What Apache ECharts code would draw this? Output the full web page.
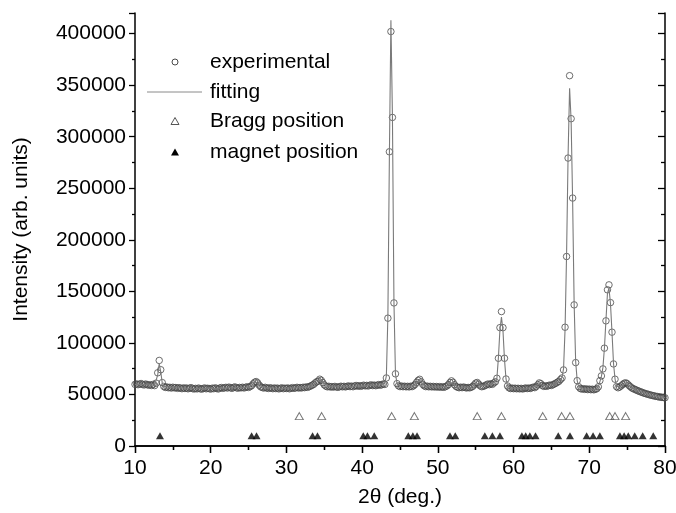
<!DOCTYPE html>
<html>
<head>
<meta charset="utf-8">
<script src="https://cdn.jsdelivr.net/npm/echarts/dist/echarts.min.js"></script>
<style>
html,body{margin:0;padding:0;background:#fff;}
#chart{width:676px;height:513px;}
</style>
</head>
<body>
<div id="chart"></div>
<script>
// 2-theta scan positions (deg.)
const twoTheta = [
10,10.2,10.4,10.6,10.8,11,11.2,11.4,11.6,11.8,
12,12.2,12.4,12.6,12.8,13,13.2,13.4,13.6,13.8,
14,14.2,14.4,14.6,14.8,15,15.2,15.4,15.6,15.8,
16,16.2,16.4,16.6,16.8,17,17.2,17.4,17.6,17.8,
18,18.2,18.4,18.6,18.8,19,19.2,19.4,19.6,19.8,
20,20.2,20.4,20.6,20.8,21,21.2,21.4,21.6,21.8,
22,22.2,22.4,22.6,22.8,23,23.2,23.4,23.6,23.8,
24,24.2,24.4,24.6,24.8,25,25.2,25.4,25.6,25.8,
26,26.2,26.4,26.6,26.8,27,27.2,27.4,27.6,27.8,
28,28.2,28.4,28.6,28.8,29,29.2,29.4,29.6,29.8,
30,30.2,30.4,30.6,30.8,31,31.2,31.4,31.6,31.8,
32,32.2,32.4,32.6,32.8,33,33.2,33.4,33.6,33.8,
34,34.2,34.4,34.6,34.8,35,35.2,35.4,35.6,35.8,
36,36.2,36.4,36.6,36.8,37,37.2,37.4,37.6,37.8,
38,38.2,38.4,38.6,38.8,39,39.2,39.4,39.6,39.8,
40,40.2,40.4,40.6,40.8,41,41.2,41.4,41.6,41.8,
42,42.2,42.4,42.6,42.8,43,43.2,43.4,43.6,43.8,
44,44.2,44.4,44.6,44.8,45,45.2,45.4,45.6,45.8,
46,46.2,46.4,46.6,46.8,47,47.2,47.4,47.6,47.8,
48,48.2,48.4,48.6,48.8,49,49.2,49.4,49.6,49.8,
50,50.2,50.4,50.6,50.8,51,51.2,51.4,51.6,51.8,
52,52.2,52.4,52.6,52.8,53,53.2,53.4,53.6,53.8,
54,54.2,54.4,54.6,54.8,55,55.2,55.4,55.6,55.8,
56,56.2,56.4,56.6,56.8,57,57.2,57.4,57.6,57.8,
58,58.2,58.4,58.6,58.8,59,59.2,59.4,59.6,59.8,
60,60.2,60.4,60.6,60.8,61,61.2,61.4,61.6,61.8,
62,62.2,62.4,62.6,62.8,63,63.2,63.4,63.6,63.8,
64,64.2,64.4,64.6,64.8,65,65.2,65.4,65.6,65.8,
66,66.2,66.4,66.6,66.8,67,67.2,67.4,67.6,67.8,
68,68.2,68.4,68.6,68.8,69,69.2,69.4,69.6,69.8,
70,70.2,70.4,70.6,70.8,71,71.2,71.4,71.6,71.8,
72,72.2,72.4,72.6,72.8,73,73.2,73.4,73.6,73.8,
74,74.2,74.4,74.6,74.8,75,75.2,75.4,75.6,75.8,
76,76.2,76.4,76.6,76.8,77,77.2,77.4,77.6,77.8,
78,78.2,78.4,78.6,78.8,79,79.2,79.4,79.6,79.8,
80
];
// experimental intensity (arb. units)
const experimental = [
59800,60300,59500,59900,60600,59700,59200,60100,59600,58900,
59400,58700,59800,58600,61000,71000,83000,74000,61500,57800,
56800,57300,56500,56900,56200,57000,56400,56700,55900,56600,
56100,55600,56400,55800,56300,55500,56000,56600,55700,55300,
55900,55400,56200,55600,55100,55800,56300,55500,56000,55700,
55200,56100,55600,56400,55800,55300,56200,56700,55900,56500,
56900,56200,57100,56600,55900,56800,57300,56500,56100,56800,
56400,57000,56300,56900,57400,56800,57600,58500,60300,61800,
62500,61200,59000,57400,56800,56200,56900,56300,55800,56500,
56100,55600,56300,55700,56200,55400,55900,56400,55600,56100,
55800,56300,55500,56000,56600,55900,56400,56900,56200,56700,
56300,57000,56600,57300,56900,57600,58200,59000,59800,61200,
62300,63000,64800,63700,61500,59300,58100,57400,57900,57200,
57600,57100,57800,57300,56900,57500,58000,57400,57900,57300,
57800,58300,57600,58100,57500,58200,58700,58000,58500,57900,
58400,59000,58300,58800,58200,58900,59300,58600,59100,58500,
59000,59600,58900,59500,60200,59700,66000,124000,285400,402000,
318700,138800,70000,60500,58400,57600,58200,57500,58000,57400,
57900,57300,58000,57600,58500,59800,61800,63600,64700,62200,
59800,58400,57600,58100,57400,57900,57300,57800,57200,57700,
57100,57600,57000,57500,56900,57600,58300,59600,61600,63200,
61800,59400,57800,57000,56500,57100,56600,57200,56700,56300,
56800,56400,57000,57800,59300,61000,61600,60000,58300,57500,
57900,58500,59300,60100,59500,60400,59800,61200,62300,65700,
85100,114800,130400,114800,85100,65000,58200,56400,55700,56200,
55600,56100,55500,56000,55400,55900,55300,55800,56300,55700,
56200,55800,56500,57100,56600,57800,59400,61200,60400,58700,
57800,58400,57900,58600,59100,58700,59500,60200,61000,61900,
62800,64500,66000,73800,115200,183800,279300,359200,317500,240500,
136900,80900,63400,57500,55800,55200,55600,54900,55400,54700,
55200,54600,55100,54500,55000,55600,57400,63400,68000,74800,
94900,121400,151500,156300,139100,110400,79600,64800,57600,56500,
57200,58300,59600,60800,61300,60500,59000,57700,56400,55600,
55000,54300,53600,53100,52400,52000,51300,50900,50400,50100,
49500,49300,48800,48600,48100,48000,47500,47500,47100,47000,
46800
];
// fitted profile (deg., intensity)
const fitAngle = [10,11,12,12.6,12.8,13,13.2,13.4,13.6,13.8,15,17,19,21,23,24.6,25.2,25.6,26,26.4,26.8,28,30,32,33,33.6,34,34.4,34.8,35.2,35.8,37,39,41,42.4,43,43.2,43.4,43.6,43.8,44,44.2,44.4,44.6,45,46,46.8,47.2,47.6,48,48.4,50,51.2,51.6,51.8,52.2,52.6,54.4,55,55.2,55.6,56.2,57,57.6,57.8,58,58.2,58.4,58.6,58.8,59,59.2,59.6,61,62.4,63,63.4,63.8,64.4,65.4,66,66.4,66.6,66.8,67,67.2,67.4,67.6,67.8,68,68.2,68.4,68.6,69,70.5,71,71.2,71.4,71.6,71.8,72,72.2,72.4,72.6,72.8,73,73.2,73.4,73.6,74,74.8,75.4,76,77,78,79,80];
const fitIntensity = [59800,59700,59300,59200,60500,69000,80000,72000,61000,57800,56600,56000,55700,55900,56500,57000,58000,60000,62000,59500,57200,56200,56000,56600,57500,60000,62000,64000,62500,59500,57600,57500,58000,58600,59400,61000,68000,126000,283000,413000,320000,140000,70000,61000,58200,57800,58400,61500,64000,60000,57800,57300,58000,61000,62800,59500,57200,56800,60200,61000,58600,58800,60000,62500,66000,86000,113000,125000,112000,84000,65000,58500,56200,55800,56400,58500,60500,59000,58300,60200,62600,66500,75000,113000,186000,282000,347000,316000,238000,138000,82000,63500,57800,55600,54900,55600,57800,62500,67500,76000,95000,122000,148000,153000,138000,110000,80000,65000,58000,57500,60700,58000,55000,52000,49500,48000,47000];
// reflection markers (deg.)
const braggPositions = [31.7,34.65,43.9,46.9,55.2,58.4,63.85,66.35,67.45,72.7,73.4,74.8];
const braggLevel = 29000;
const magnetPositions = [13.3,25.4,26.05,33.45,34.1,40.15,40.7,41.6,46.1,46.7,47.25,51.6,52.3,56.2,57.2,58.2,61.1,61.6,62.15,62.9,65.9,67.45,69.65,70.5,71.4,74.05,74.6,75.15,76.0,77.05,78.45];
const magnetLevel = 10000;
const legendNames = ['experimental','fitting','Bragg position','magnet position'];
const xTicks = {min:10, max:80, interval:10};
const yTicks = {min:0, max:420000, interval:50000};

const FONT = 'Liberation Sans';
const chart = echarts.init(document.getElementById('chart'), null, {renderer:'canvas'});

function pairs(xs, ys){ return xs.map((x,i)=>[x, ys[i]]); }
function level(xs, v){ return xs.map(x=>[x, v]); }

const axisLine = {show:true, lineStyle:{color:'#000', width:1.5}};
const baseX = {type:'value', min:xTicks.min, max:xTicks.max, interval:xTicks.interval, splitLine:{show:false}, axisLine:axisLine};
const baseY = {type:'value', min:yTicks.min, max:yTicks.max, interval:yTicks.interval, splitLine:{show:false}, axisLine:axisLine};

const lx = 149, ly = [62, 92, 121, 152];
const legendFont = '21px "Liberation Sans"';
chart.setOption({
  animation:false,
  backgroundColor:'#fff',
  grid:{left:135, right:11, top:13, bottom:67, containLabel:false, outerBoundsMode:'none'},
  xAxis:[
    Object.assign({}, baseX, {position:'bottom',
      axisTick:{show:true, inside:false, length:7, lineStyle:{color:'#000', width:1.3}},
      minorTick:{show:true, splitNumber:2, length:4, lineStyle:{color:'#000', width:1.3}},
      axisLabel:{show:true, color:'#000', fontSize:21, fontFamily:FONT, margin:12},
      name:'2θ (deg.)', nameLocation:'middle', nameGap:41,
      nameTextStyle:{color:'#000', fontSize:21, fontFamily:FONT}}),
    Object.assign({}, baseX, {position:'top',
      axisTick:{show:true, inside:true, length:7, lineStyle:{color:'#000', width:1.3}},
      minorTick:{show:true, splitNumber:2, length:4, lineStyle:{color:'#000', width:1.3}},
      axisLabel:{show:false}})
  ],
  yAxis:[
    Object.assign({}, baseY, {position:'left',
      axisTick:{show:true, inside:false, length:6, lineStyle:{color:'#000', width:1.3}},
      minorTick:{show:true, splitNumber:2, length:3, lineStyle:{color:'#000', width:1.3}},
      axisLabel:{show:true, color:'#000', fontSize:21, fontFamily:FONT, margin:9,
        formatter:v=> (v % yTicks.interval === 0 ? String(v) : '')},
      name:'Intensity (arb. units)', nameLocation:'middle', nameGap:103,
      nameTextStyle:{color:'#000', fontSize:21, fontFamily:FONT}}),
    Object.assign({}, baseY, {position:'right',
      axisTick:{show:true, inside:true, length:7, lineStyle:{color:'#000', width:1.3}},
      minorTick:{show:true, splitNumber:2, length:4, lineStyle:{color:'#000', width:1.3}},
      axisLabel:{show:false}})
  ],
  series:[
    {name:legendNames[0], type:'scatter', xAxisIndex:0, yAxisIndex:0,
     data:pairs(twoTheta, experimental), symbol:'circle', symbolSize:6.5,
     itemStyle:{color:'rgba(0,0,0,0)', borderColor:'#4a4a4a', borderWidth:1}, silent:true},
    {name:legendNames[1], type:'line', xAxisIndex:0, yAxisIndex:0,
     data:pairs(fitAngle, fitIntensity), showSymbol:false, symbol:'none',
     lineStyle:{color:'#7a7a7a', width:1.1}, silent:true, z:3},
    {name:legendNames[2], type:'scatter', xAxisIndex:0, yAxisIndex:0,
     data:level(braggPositions, braggLevel), symbol:'triangle', symbolSize:[8,7],
     itemStyle:{color:'rgba(0,0,0,0)', borderColor:'#555', borderWidth:1}, silent:true},
    {name:legendNames[3], type:'scatter', xAxisIndex:0, yAxisIndex:0,
     data:level(magnetPositions, magnetLevel), symbol:'triangle', symbolSize:[8,7],
     itemStyle:{color:'#000'}, silent:true}
  ],
  graphic:[
    {type:'circle', shape:{cx:175, cy:ly[0], r:3}, style:{fill:'none', stroke:'#4a4a4a', lineWidth:1}},
    {type:'line', shape:{x1:lx-2, y1:ly[1], x2:202, y2:ly[1]}, style:{stroke:'#8a8a8a', lineWidth:1}},
    {type:'polygon', shape:{points:[[175,ly[2]-3.5],[179,ly[2]+3.5],[171,ly[2]+3.5]]}, style:{fill:'none', stroke:'#555', lineWidth:1}},
    {type:'polygon', shape:{points:[[175,ly[3]-3.5],[179,ly[3]+3.5],[171,ly[3]+3.5]]}, style:{fill:'#000'}},
    {type:'text', x:210, y:ly[0], style:{text:legendNames[0], font:legendFont, fill:'#000', verticalAlign:'middle'}},
    {type:'text', x:210, y:ly[1], style:{text:legendNames[1], font:legendFont, fill:'#000', verticalAlign:'middle'}},
    {type:'text', x:210, y:ly[2], style:{text:legendNames[2], font:legendFont, fill:'#000', verticalAlign:'middle'}},
    {type:'text', x:210, y:ly[3], style:{text:legendNames[3], font:legendFont, fill:'#000', verticalAlign:'middle'}}
  ]
});
</script>
</body>
</html>
